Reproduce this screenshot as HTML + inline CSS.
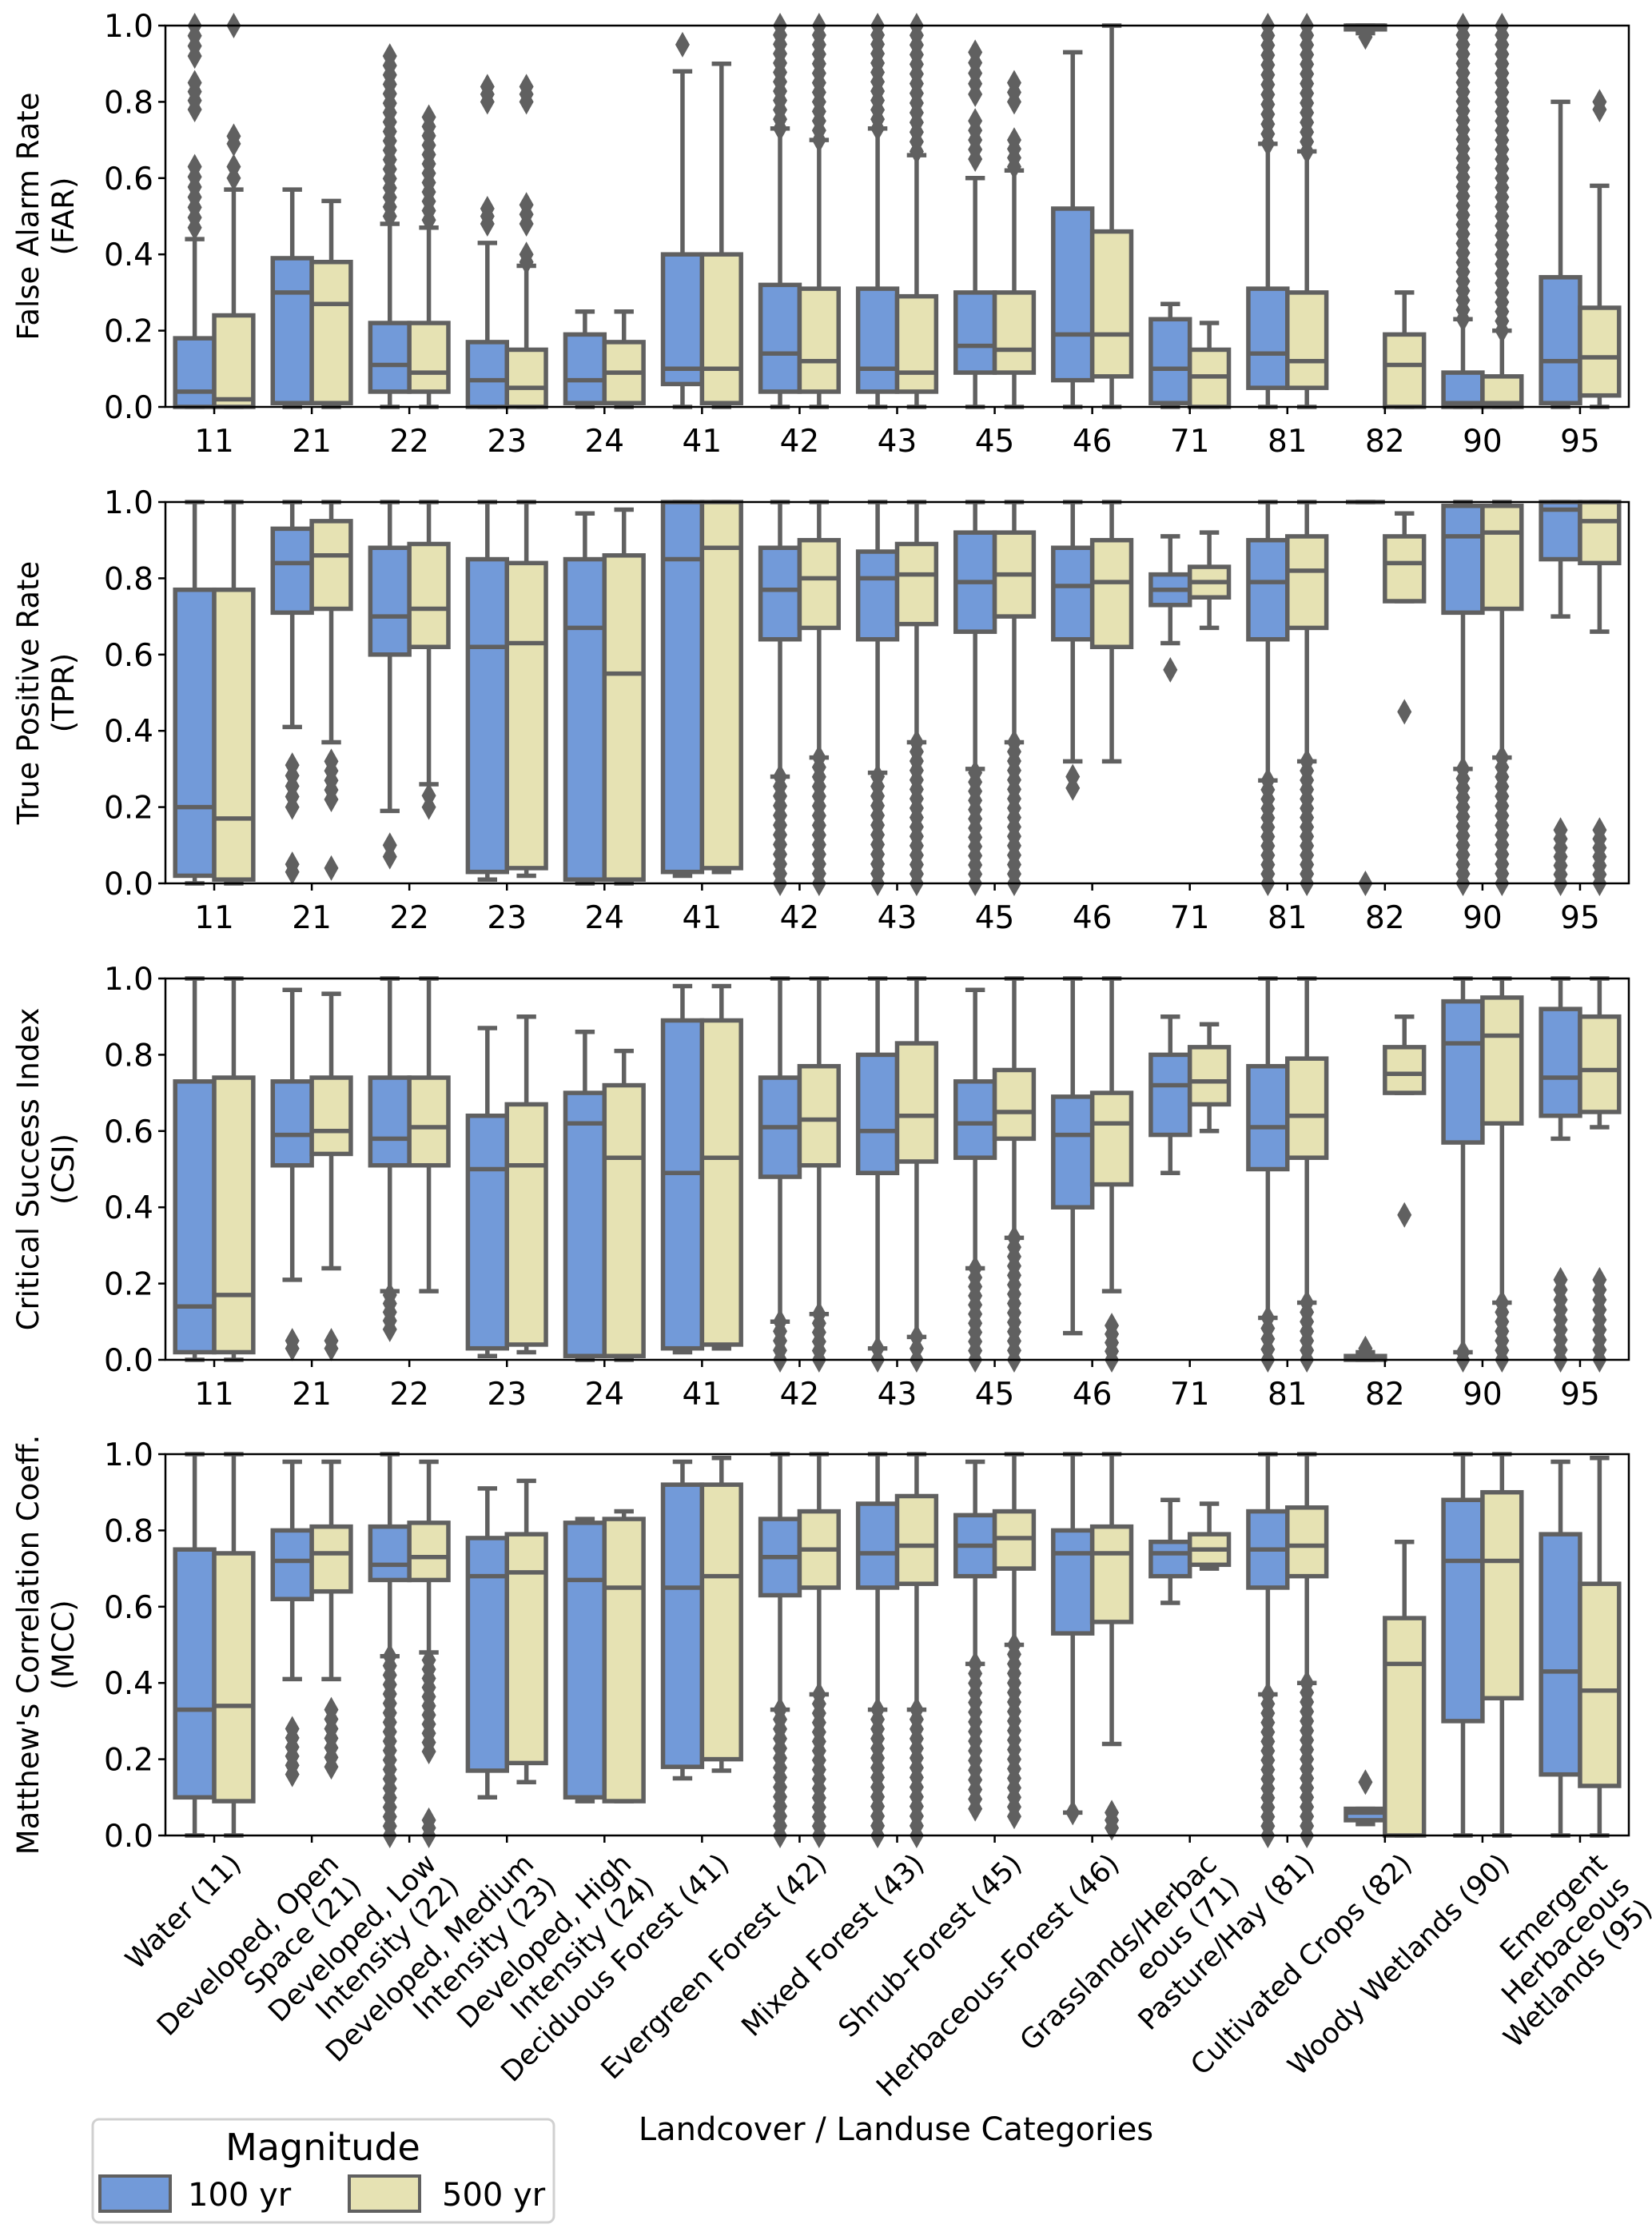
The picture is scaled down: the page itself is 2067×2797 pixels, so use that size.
<!DOCTYPE html>
<html><head><meta charset="utf-8"><style>
html,body{margin:0;padding:0;background:#fff;}
svg{display:block;font-family:"DejaVu Sans","Liberation Sans",sans-serif;}
</style></head><body>
<svg id="chart" width="2067" height="2797" viewBox="0 0 2067 2797" xmlns="http://www.w3.org/2000/svg">
<g id="plots"></g>
<g>
<rect x="116" y="2651" width="577" height="129" rx="8" fill="#fff" stroke="#d0d0d0" stroke-width="3"/>
<text x="404" y="2702" font-size="46" text-anchor="middle">Magnitude</text>
<rect x="125" y="2722" width="88" height="44" fill="#729ad9" stroke="#606060" stroke-width="4"/>
<text x="235" y="2759" font-size="40">100 yr</text>
<rect x="437" y="2722" width="88" height="44" fill="#e6e2b3" stroke="#606060" stroke-width="4"/>
<text x="553" y="2759" font-size="40">500 yr</text>
</g>
<text x="1121" y="2677" font-size="40" text-anchor="middle">Landcover / Landuse Categories</text>
</svg>
<script>
const categories = ["11","21","22","23","24","41","42","43","45","46","71","81","82","90","95"];
const categoryNames = [["Water (11)"],["Developed, Open","Space (21)"],["Developed, Low","Intensity (22)"],["Developed, Medium","Intensity (23)"],["Developed, High","Intensity (24)"],["Deciduous Forest (41)"],["Evergreen Forest (42)"],["Mixed Forest (43)"],["Shrub-Forest (45)"],["Herbaceous-Forest (46)"],["Grasslands/Herbac","eous (71)"],["Pasture/Hay (81)"],["Cultivated Crops (82)"],["Woody Wetlands (90)"],["Emergent","Herbaceous","Wetlands (95)"]];
const yTicks = [0,0.2,0.4,0.6,0.8,1.0];
const yTickLabels = ["0.0","0.2","0.4","0.6","0.8","1.0"];
const metricTitles = [["False Alarm Rate","(FAR)"],["True Positive Rate","(TPR)"],["Critical Success Index","(CSI)"],["Matthew's Correlation Coeff.","(MCC)"]];
// each box: [whiskerLow, q1, median, q3, whiskerHigh]
const far100 = [[0,0,0.04,0.18,0.44],[0,0.01,0.30,0.39,0.57],[0,0.04,0.11,0.22,0.48],[0,0,0.07,0.17,0.43],[0,0.01,0.07,0.19,0.25],[0,0.06,0.10,0.40,0.88],[0,0.04,0.14,0.32,0.73],[0,0.04,0.10,0.31,0.73],[0,0.09,0.16,0.30,0.60],[0,0.07,0.19,0.52,0.93],[0,0.01,0.10,0.23,0.27],[0,0.05,0.14,0.31,0.69],[0.98,0.99,1.0,1.0,1.0],[0,0,0.01,0.09,0.23],[0,0.01,0.12,0.34,0.80]];
const far500 = [[0,0,0.02,0.24,0.57],[0,0.01,0.27,0.38,0.54],[0,0.04,0.09,0.22,0.47],[0,0,0.05,0.15,0.37],[0,0.01,0.09,0.17,0.25],[0,0.01,0.10,0.40,0.90],[0,0.04,0.12,0.31,0.70],[0,0.04,0.09,0.29,0.66],[0,0.09,0.15,0.30,0.62],[0,0.08,0.19,0.46,1.0],[0,0,0.08,0.15,0.22],[0,0.05,0.12,0.30,0.67],[0,0,0.11,0.19,0.30],[0,0,0.01,0.08,0.20],[0,0.03,0.13,0.26,0.58]];
const tpr100 = [[0,0.02,0.20,0.77,1.0],[0.41,0.71,0.84,0.93,1.0],[0.19,0.60,0.70,0.88,1.0],[0.01,0.03,0.62,0.85,1.0],[0,0.01,0.67,0.85,0.97],[0.02,0.03,0.85,1.0,1.0],[0.28,0.64,0.77,0.88,1.0],[0.29,0.64,0.80,0.87,1.0],[0.30,0.66,0.79,0.92,1.0],[0.32,0.64,0.78,0.88,1.0],[0.63,0.73,0.77,0.81,0.91],[0.27,0.64,0.79,0.90,1.0],[1.0,1.0,1.0,1.0,1.0],[0.30,0.71,0.91,0.99,1.0],[0.70,0.85,0.98,1.0,1.0]];
const tpr500 = [[0,0.01,0.17,0.77,1.0],[0.37,0.72,0.86,0.95,1.0],[0.26,0.62,0.72,0.89,1.0],[0.02,0.04,0.63,0.84,1.0],[0,0.01,0.55,0.86,0.98],[0.03,0.04,0.88,1.0,1.0],[0.33,0.67,0.80,0.90,1.0],[0.37,0.68,0.81,0.89,1.0],[0.37,0.70,0.81,0.92,1.0],[0.32,0.62,0.79,0.90,1.0],[0.67,0.75,0.79,0.83,0.92],[0.32,0.67,0.82,0.91,1.0],[0.74,0.74,0.84,0.91,0.97],[0.33,0.72,0.92,0.99,1.0],[0.66,0.84,0.95,1.0,1.0]];
const csi100 = [[0,0.02,0.14,0.73,1.0],[0.21,0.51,0.59,0.73,0.97],[0.18,0.51,0.58,0.74,1.0],[0.01,0.03,0.50,0.64,0.87],[0,0.01,0.62,0.70,0.86],[0.02,0.03,0.49,0.89,0.98],[0.10,0.48,0.61,0.74,1.0],[0.03,0.49,0.60,0.80,1.0],[0.24,0.53,0.62,0.73,0.97],[0.07,0.40,0.59,0.69,1.0],[0.49,0.59,0.72,0.80,0.90],[0.11,0.50,0.61,0.77,1.0],[0,0,0.01,0.01,0.02],[0.02,0.57,0.83,0.94,1.0],[0.58,0.64,0.74,0.92,1.0]];
const csi500 = [[0,0.02,0.17,0.74,1.0],[0.24,0.54,0.60,0.74,0.96],[0.18,0.51,0.61,0.74,1.0],[0.02,0.04,0.51,0.67,0.90],[0,0.01,0.53,0.72,0.81],[0.03,0.04,0.53,0.89,0.98],[0.12,0.51,0.63,0.77,1.0],[0.06,0.52,0.64,0.83,1.0],[0.32,0.58,0.65,0.76,1.0],[0.18,0.46,0.62,0.70,1.0],[0.60,0.67,0.73,0.82,0.88],[0.15,0.53,0.64,0.79,1.0],[0.70,0.70,0.75,0.82,0.90],[0.15,0.62,0.85,0.95,1.0],[0.61,0.65,0.76,0.90,1.0]];
const mcc100 = [[0,0.10,0.33,0.75,1.0],[0.41,0.62,0.72,0.80,0.98],[0.47,0.67,0.71,0.81,1.0],[0.10,0.17,0.68,0.78,0.91],[0.09,0.10,0.67,0.82,0.83],[0.15,0.18,0.65,0.92,0.98],[0.33,0.63,0.73,0.83,1.0],[0.33,0.65,0.74,0.87,1.0],[0.45,0.68,0.76,0.84,0.98],[0.06,0.53,0.74,0.80,1.0],[0.61,0.68,0.74,0.77,0.88],[0.37,0.65,0.75,0.85,1.0],[0.03,0.04,0.06,0.07,0.07],[0,0.30,0.72,0.88,1.0],[0,0.16,0.43,0.79,0.98]];
const mcc500 = [[0,0.09,0.34,0.74,1.0],[0.41,0.64,0.74,0.81,0.98],[0.48,0.67,0.73,0.82,0.98],[0.14,0.19,0.69,0.79,0.93],[0.09,0.09,0.65,0.83,0.85],[0.17,0.20,0.68,0.92,0.99],[0.37,0.65,0.75,0.85,1.0],[0.33,0.66,0.76,0.89,1.0],[0.50,0.70,0.78,0.85,1.0],[0.24,0.56,0.74,0.81,1.0],[0.70,0.71,0.75,0.79,0.87],[0.40,0.68,0.76,0.86,1.0],[0,0,0.45,0.57,0.77],[0,0.36,0.72,0.90,1.0],[0,0.13,0.38,0.66,0.99]];
// outlier ranges per category: list of [lo, hi] (dense clusters of fliers)
const farOut100 = [[[0.47,0.63],[0.78,0.85],[0.92,1.0]],[],[[0.5,0.92]],[[0.48,0.52],[0.8,0.84]],[],[[0.95,0.95]],[[0.73,1.0]],[[0.73,1.0]],[[0.65,0.75],[0.82,0.93]],[],[],[[0.69,1.0]],[[0.97,0.97]],[[0.23,1.0]],[]];
const farOut500 = [[[0.6,0.63],[0.69,0.71],[1.0,1.0]],[],[[0.49,0.76]],[[0.38,0.40],[0.48,0.53],[0.8,0.84]],[],[],[[0.70,1.0]],[[0.67,1.0]],[[0.63,0.70],[0.8,0.85]],[],[],[[0.67,1.0]],[],[[0.20,1.0]],[[0.78,0.80]]];
const tprOut100 = [[],[[0.03,0.05],[0.2,0.31]],[[0.07,0.10]],[],[],[],[[0,0.28]],[[0,0.28]],[[0,0.29]],[[0.25,0.28]],[[0.56,0.56]],[[0,0.27]],[[0,0]],[[0,0.30]],[[0,0.14]]];
const tprOut500 = [[],[[0.04,0.04],[0.22,0.32]],[[0.20,0.23]],[],[],[],[[0,0.33]],[[0,0.37]],[[0,0.37]],[],[],[[0,0.32]],[[0.45,0.45]],[[0,0.33]],[[0,0.14]]];
const csiOut100 = [[],[[0.03,0.05]],[[0.08,0.17]],[],[],[],[[0,0.10]],[[0,0.03]],[[0,0.24]],[],[],[[0,0.11]],[[0.03,0.03]],[[0,0.02]],[[0,0.21]]];
const csiOut500 = [[],[[0.03,0.05]],[],[],[],[],[[0,0.12]],[[0,0.06]],[[0,0.32]],[[0,0.09]],[],[[0,0.15]],[[0.38,0.38]],[[0,0.15]],[[0,0.21]]];
const mccOut100 = [[],[[0.16,0.28]],[[0,0.47]],[],[],[],[[0,0.33]],[[0,0.33]],[[0.07,0.45]],[[0.06,0.06]],[],[[0,0.37]],[[0.14,0.14]],[],[]];
const mccOut500 = [[],[[0.18,0.33]],[[0,0.04],[0.22,0.46]],[],[],[],[[0,0.37]],[[0,0.33]],[[0.05,0.50]],[[0.02,0.06]],[],[[0,0.40]],[],[],[]];

const panels = [
 {name:"far",s100:far100,s500:far500,o100:farOut100,o500:farOut500},
 {name:"tpr",s100:tpr100,s500:tpr500,o100:tprOut100,o500:tprOut500},
 {name:"csi",s100:csi100,s500:csi500,o100:csiOut100,o500:csiOut500},
 {name:"mcc",s100:mcc100,s500:mcc500,o100:mccOut100,o500:mccOut500}
];
const panelTops = [32,628,1224,1819];
const PH = 477, X0 = 207, X1 = 2038;
const step = (X1 - X0) / categories.length;
const BW = step * 0.4;
const LINE = "#606060";
const NS = "http://www.w3.org/2000/svg";
const root = document.getElementById("plots");
function mk(tag, attrs, parent){const e=document.createElementNS(NS,tag);for(const k in attrs)e.setAttribute(k,attrs[k]);parent.appendChild(e);return e;}
function xC(i){return X0 + step*(i+0.5);}

panels.forEach((p, pi) => {
  const top = panelTops[pi], bot = top + PH;
  const yS = v => bot - v * PH;
  const g = mk("g", {}, root);
  
  
  [[p.s100,p.o100,"#729ad9",-1],[p.s500,p.o500,"#e6e2b3",0]].forEach(([ser,outs,fill,off],si)=>{
    ser.forEach((b,i)=>{
      const bx = xC(i) + off*BW, cx = bx + BW/2;
      const bg = mk("g",{},g);
      
      
      const st = {stroke:LINE,"stroke-width":5.5};
      mk("line",Object.assign({x1:cx,x2:cx,y1:yS(b[0]),y2:yS(b[1])},st),bg);
      mk("line",Object.assign({x1:cx,x2:cx,y1:yS(b[3]),y2:yS(b[4])},st),bg);
      mk("line",Object.assign({x1:cx-BW/4,x2:cx+BW/4,y1:yS(b[0]),y2:yS(b[0])},st),bg);
      mk("line",Object.assign({x1:cx-BW/4,x2:cx+BW/4,y1:yS(b[4]),y2:yS(b[4])},st),bg);
      const h = Math.max(yS(b[1])-yS(b[3]),0);
      mk("rect",Object.assign({x:bx,y:yS(b[3]),width:BW,height:h,fill:fill},st),bg);
      mk("line",Object.assign({x1:bx,x2:bx+BW,y1:yS(b[2]),y2:yS(b[2])},st),bg);
      outs[i].forEach(r=>{
        const n = Math.max(1, Math.round((r[1]-r[0])*PH/12)+1);
        for(let k=0;k<n;k++){
          const v = n===1 ? r[0] : r[0] + (r[1]-r[0])*k/(n-1);
          const y = yS(v);
          const d = mk("path",{d:`M${cx} ${y-16} L${cx+9} ${y} L${cx} ${y+16} L${cx-9} ${y} Z`,fill:LINE},bg);
          
          
        }
      });
    });
  });
  const fr = mk("rect",{x:X0,y:top,width:X1-X0,height:PH,fill:"none",stroke:"#000","stroke-width":2.5},g);
  
  
  yTicks.forEach((t,k)=>{
    mk("line",{x1:X0-9,x2:X0,y1:yS(t),y2:yS(t),stroke:"#000","stroke-width":2.5},g);
    const tx = mk("text",{x:X0-15,y:yS(t)+14,"font-size":39,"text-anchor":"end"},g);
    tx.textContent = yTickLabels[k];
    
    
  });
  categories.forEach((c,i)=>{
    mk("line",{x1:xC(i),x2:xC(i),y1:bot,y2:bot+9,stroke:"#000","stroke-width":2.5},g);
    if(pi<3){
      const tx = mk("text",{x:xC(i),y:bot+56,"font-size":39,"text-anchor":"middle"},g);
      tx.textContent = c;
      
      
    }
  });
  const yc = top + PH/2;
  const yt = mk("text",{transform:`translate(0 ${yc}) rotate(-90)`,"font-size":37,"text-anchor":"middle"},g);
  
  
  metricTitles[pi].forEach((l,k)=>{const ts=mk("tspan",{x:0,y:k===0?48:92},yt);ts.textContent=l;});
});
const botY = panelTops[3] + PH;
categoryNames.forEach((lines,i)=>{
  const x = xC(i) + 18, y = botY + 20;
  const t = mk("text",{transform:`translate(${x} ${y}) rotate(-45)`,"font-size":35,"text-anchor":"end"},root);
  
  
  lines.forEach((l,k)=>{const ts=mk("tspan",{x:0,y:25+k*40},t);ts.textContent=l;});
});
</script>
</body></html>
